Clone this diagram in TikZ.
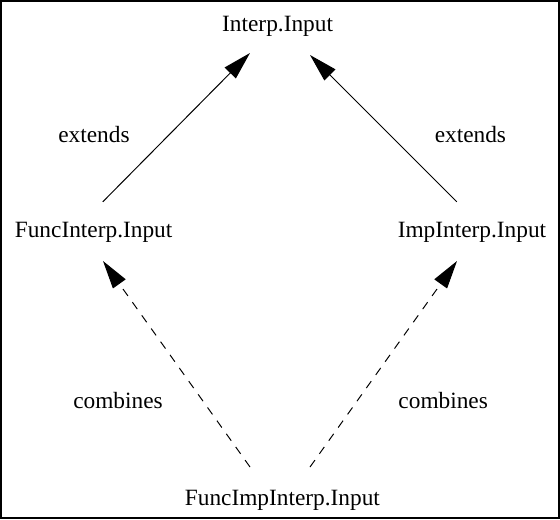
\documentclass[tikz,border=0pt]{standalone}
\usepackage{fontspec}
\setmainfont{Liberation Serif}
\usetikzlibrary{positioning}
\usetikzlibrary{arrows.meta}

\tikzset{
	cls/.style={inner sep=0pt, anchor=base, font=\fontsize{16.6}{20}\selectfont},
	rel/.style={inner sep=0pt, anchor=base, font=\fontsize{16.6}{20}\selectfont},
	extarrow/.style={line width=0.7pt, -{Triangle[length=20pt,width=11pt]}},
	combarrow/.style={line width=0.7pt, dash pattern=on 6pt off 5.5pt, -{Triangle[length=20pt,width=11pt]}}
}

\begin{document}
\begin{tikzpicture}
				\useasboundingbox (0,0) rectangle (14,12.975);
				\draw[line width=1.3pt] (0.03,0.03) rectangle (13.97,12.945);
				% classes
				\node[cls] (interp) at (6.94,12.2) {Interp.Input};
				\node[cls] (func) at (2.34,7.05) {FuncInterp.Input};
				\node[cls] (imp) at (11.8,7.05) {ImpInterp.Input};
				\node[cls] (funcimp) at (7.06,0.35) {FuncImpInterp.Input};
				% relations
				\draw[extarrow] ([shift={(0.23,0.88)}]func.base) -- ([shift={(-0.69,-0.55)}]interp.base);
				\draw[extarrow] ([shift={(-0.38,0.88)}]imp.base) -- ([shift={(0.81,-0.6)}]interp.base);
				\draw[combarrow] ([shift={(-0.81,0.95)}]funcimp.base) -- ([shift={(0.235,-0.6)}]func.base);
				\draw[combarrow] ([shift={(0.69,0.95)}]funcimp.base) -- ([shift={(-0.375,-0.6)}]imp.base);
				\node[rel] (extl) at (2.35,9.425) {extends};
				\node[rel] (extr) at (11.76,9.425) {extends};
				\node[rel] (combl) at (2.95,2.775) {combines};
				\node[rel] (combr) at (11.08,2.775) {combines};
\end{tikzpicture}
\end{document}
